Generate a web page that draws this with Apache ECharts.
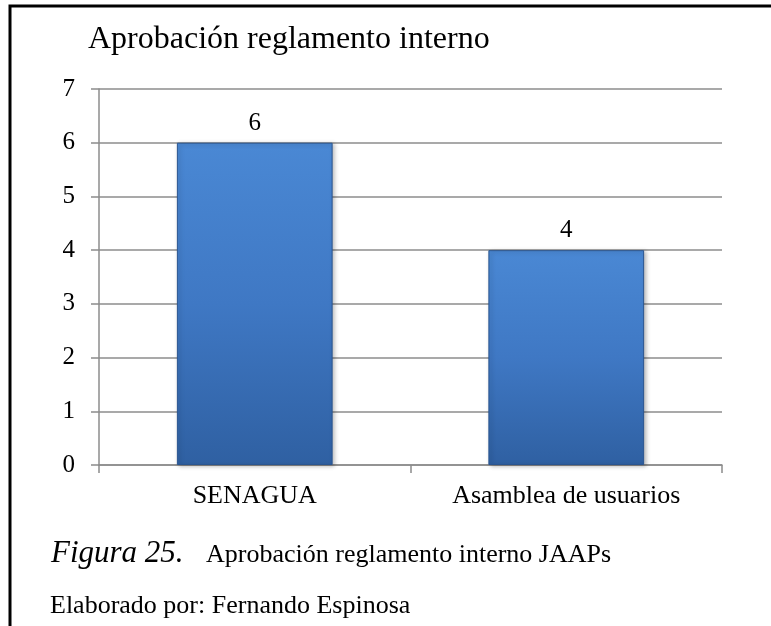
<!DOCTYPE html>
<html>
<head>
<meta charset="utf-8">
<script src="https://cdn.jsdelivr.net/npm/echarts@6/dist/echarts.min.js"></script>
<style>
  html, body { margin: 0; padding: 0; background: #fff; }
  #chart { width: 771px; height: 626px; }
</style>
</head>
<body>
<div id="chart"></div>
<script>
// datos del gráfico
var categories = ["SENAGUA", "Asamblea de usuarios"];
var values = [6, 4];
var yTicks = [0, 1, 2, 3, 4, 5, 6, 7];

var serif = "'Liberation Serif', 'Times New Roman', serif";

var chart = echarts.init(document.getElementById("chart"));
var option = {
  animation: false,
  backgroundColor: "#fff",
  title: {
    text: "Aprobación reglamento interno",
    left: 83,
    top: 19,
    textStyle: { fontFamily: serif, fontSize: 32, fontWeight: "normal", color: "#000" },
  },
  grid: { left: 99, right: 49, top: 89, bottom: 161 },
  xAxis: {
    type: "category",
    data: categories,
    axisLine: { lineStyle: { color: "#8c8c8c", width: 1.5 } },
    axisTick: { show: true, length: 8, lineStyle: { color: "#8c8c8c", width: 1.5 } },
    axisLabel: { fontFamily: serif, fontSize: 26, color: "#000", margin: 18 },
  },
  yAxis: {
    type: "value",
    min: yTicks[0],
    max: yTicks[yTicks.length - 1],
    interval: 1,
    axisLine: { show: true, lineStyle: { color: "#8c8c8c", width: 1.5 } },
    axisTick: { show: true, length: 8, lineStyle: { color: "#8c8c8c", width: 1.5 } },
    axisLabel: { fontFamily: serif, fontSize: 25, color: "#000", margin: 24 },
    splitLine: { lineStyle: { color: "#8c8c8c", width: 1.5 } },
  },
  series: [
    {
      type: "bar",
      data: values,
      barWidth: "50%",
      itemStyle: {
        color: new echarts.graphic.LinearGradient(0, 0, 0, 1, [
          { offset: 0, color: "#4a88d4" },
          { offset: 0.5, color: "#3f78c4" },
          { offset: 1, color: "#2f60a2" },
        ]),
        borderColor: "#2a5590",
        borderWidth: 1,
        shadowColor: "rgba(0,0,0,0.25)",
        shadowBlur: 4,
        shadowOffsetX: 2,
        shadowOffsetY: 1,
      },
      label: {
        show: true,
        position: "top",
        distance: 7,
        fontFamily: serif,
        fontSize: 25,
        color: "#000",
      },
    },
  ],
  graphic: [
    {
      type: "polyline",
      shape: { points: [[10, 626], [10, 6], [771, 6]] },
      style: { stroke: "#000", lineWidth: 3, fill: null },
    },
    {
      type: "text",
      x: 51,
      y: 554,
      style: { text: "Figura 25.", font: "italic 31px " + serif, fill: "#000", verticalAlign: "middle" },
    },
    {
      type: "text",
      x: 206,
      y: 555,
      style: { text: "Aprobación reglamento interno JAAPs", font: "26px " + serif, fill: "#000", verticalAlign: "middle" },
    },
    {
      type: "text",
      x: 50,
      y: 606,
      style: { text: "Elaborado por: Fernando Espinosa", font: "26px " + serif, fill: "#000", verticalAlign: "middle" },
    },
  ],
};
chart.setOption(option);
</script>
</body>
</html>
